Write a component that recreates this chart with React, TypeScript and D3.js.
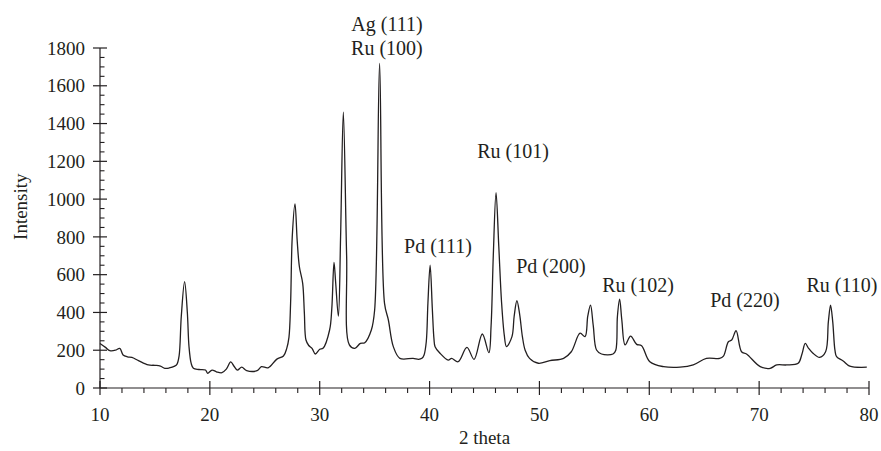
import React from 'react';
import * as d3 from 'd3';

const twoTheta = [
  10.0, 10.5, 10.9, 11.4, 11.8, 12.1, 12.5, 12.9, 13.5, 14.4, 15.0, 15.5, 15.9, 16.3, 16.8,
  17.0, 17.2, 17.4, 17.7, 17.95, 18.1, 18.3, 18.5, 19.0, 19.6, 19.8, 20.2, 20.6, 21.1, 21.5, 21.9, 22.2,
  22.5, 22.9, 23.35, 24.3, 24.7, 25.3, 26.1, 26.7, 27.0, 27.2, 27.35, 27.5, 27.75, 27.95, 28.15, 28.45, 28.6, 28.75,
  29.0, 29.3, 29.6, 30.0, 30.3, 30.9, 31.1, 31.3, 31.45, 31.7, 31.9, 32.15, 32.45, 32.7, 33.2, 33.7, 34.1,
  34.7, 35.0, 35.45, 35.9, 36.25, 36.7, 37.3, 38.5, 39.0, 39.3, 39.5, 39.7, 39.85, 40.05, 40.25, 40.4, 40.5, 40.95,
  41.7, 42.0, 42.6, 43.4, 44.05, 44.8, 45.4, 45.6, 45.8, 46.05, 46.3, 46.55, 46.8, 47.0, 47.5, 47.7, 47.95, 48.2, 48.45, 48.7, 49.1,
  49.9, 50.95, 52.2, 52.9, 53.7, 54.15, 54.4, 54.65, 54.9, 55.2, 55.65, 56.7, 56.95, 57.1, 57.3, 57.5, 57.8, 58.3, 58.85,
  59.3, 60.05, 61.3, 62.8, 64.0, 65.2, 66.4, 66.75, 67.2, 67.5, 67.9, 68.4, 68.85, 70.1,
  71.0, 71.6, 72.5, 73.55, 73.9, 74.2, 74.5, 74.9, 75.5, 76.05, 76.3, 76.5, 76.7, 76.9, 77.05, 77.65, 78.25, 79.8,
];
const intensity = [
  236, 215, 198, 200, 210, 175, 165, 162, 145, 122, 120, 116, 104, 106, 116,
  125, 170, 380, 563, 400, 220, 130, 104, 98, 95, 78, 95, 86, 81, 100, 138, 115,
  95, 110, 92, 92, 113, 107, 153, 169, 210, 268, 450, 800, 975, 780, 642, 554, 400, 254,
  225, 210, 180, 205, 210, 307, 420, 665, 560, 380, 800, 1460, 700, 228, 210, 236, 240,
  307, 413, 1719, 448, 360, 219, 157, 157, 152, 157, 175, 245, 450, 651, 420, 260, 219, 184,
  148, 157, 139, 215, 152, 286, 187, 330, 700, 1034, 750, 457, 280, 219, 272, 380, 462, 390, 272, 200, 157,
  131, 145, 157, 192, 290, 272, 380, 439, 330, 201, 180, 180, 200, 380, 470, 360, 228, 275, 231,
  224, 139, 113, 110, 122, 157, 157, 169, 245, 254, 303, 192, 180, 113,
  104, 122, 122, 131, 180, 236, 210, 184, 162, 192, 350, 439, 350, 200, 166, 143, 116, 110,
];

const xTicks = [10, 20, 30, 40, 50, 60, 70, 80];
const yTicks = [0, 200, 400, 600, 800, 1000, 1200, 1400, 1600, 1800];

const peakLabels = ['Ag (111)', 'Ru (100)', 'Ru (101)', 'Pd (111)', 'Pd (200)', 'Ru (102)', 'Pd (220)', 'Ru (110)'];
const labelTheta = [36.12, 36.12, 47.6, 40.77, 51.05, 58.97, 68.71, 77.54];
const labelIntensity = [1890, 1763, 1216, 715, 609, 510, 429, 508];

const xTitle = '2 theta';
const yTitle = 'Intensity';

export default function App() {
  const W = 881;
  const H = 451;
  const x = d3.scaleLinear().domain([10, 80]).range([100, 869]);
  const y = d3.scaleLinear().domain([0, 1800]).range([388, 48]);
  const pts: [number, number][] = twoTheta.map((t, i) => [t, intensity[i]]);
  const line = d3
    .line<[number, number]>()
    .x((d) => x(d[0]))
    .y((d) => y(d[1]))
    .curve(d3.curveCatmullRom.alpha(0.5));
  const xMinor = d3.range(10, 80.01, 2).filter((v) => v % 10 !== 0);
  const yMinor = d3.range(0, 1800.01, 50).filter((v) => v % 200 !== 0);
  const font = '"Liberation Serif", "Times New Roman", serif';
  const ink = '#231f20';
  const x0 = x(10);
  const y0 = y(0);
  return (
    <svg
      width={W}
      height={H}
      style={{ position: 'absolute', left: 0, top: 0, background: '#fff' }}
      fontFamily={font}
    >
      <rect width={W} height={H} fill="#fff" />
      <path d={line(pts) || ''} fill="none" stroke={ink} strokeWidth={1.3} strokeLinejoin="round" />
      <line x1={x0} x2={x(80)} y1={y0} y2={y0} stroke={ink} strokeWidth={1.2} />
      <line x1={x0} x2={x0} y1={y0} y2={y(1800)} stroke={ink} strokeWidth={1.2} />
      {xTicks.map((t) => (
        <g key={'xt' + t}>
          <line x1={x(t)} x2={x(t)} y1={y0 - 7} y2={y0 + 7} stroke={ink} strokeWidth={1.2} />
          <text x={x(t)} y={421} textAnchor="middle" fontSize={19} fill={ink}>
            {t}
          </text>
        </g>
      ))}
      {xMinor.map((t) => (
        <line key={'xm' + t} x1={x(t)} x2={x(t)} y1={y0} y2={y0 + 5} stroke={ink} strokeWidth={1.1} />
      ))}
      {yTicks.map((t) => (
        <g key={'yt' + t}>
          <line x1={x0 - 7} x2={x0 + 7} y1={y(t)} y2={y(t)} stroke={ink} strokeWidth={1.2} />
          <text x={85} y={y(t)} dy="0.35em" textAnchor="end" fontSize={19} fill={ink}>
            {t}
          </text>
        </g>
      ))}
      {yMinor.map((t) => (
        <line key={'ym' + t} x1={x0} x2={x0 + 4.5} y1={y(t)} y2={y(t)} stroke={ink} strokeWidth={1.1} />
      ))}
      <text x={x(45)} y={444} textAnchor="middle" fontSize={19} fill={ink}>
        {xTitle}
      </text>
      <text
        transform={`translate(26.5, ${y(960)}) rotate(-90)`}
        textAnchor="middle"
        fontSize={19}
        fill={ink}
      >
        {yTitle}
      </text>
      {peakLabels.map((s, i) => (
        <text
          key={'pl' + i}
          x={x(labelTheta[i])}
          y={y(labelIntensity[i])}
          textAnchor="middle"
          fontSize={20}
          fill={ink}
        >
          {s}
        </text>
      ))}
    </svg>
  );
}
